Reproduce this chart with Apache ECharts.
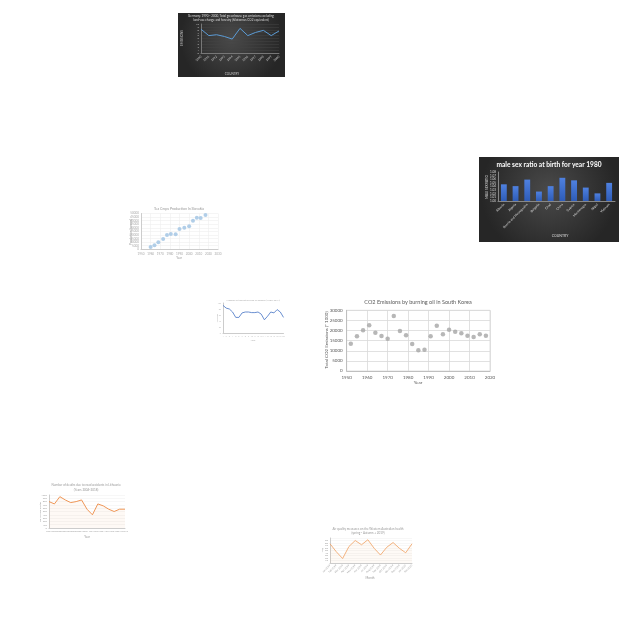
<!DOCTYPE html>
<html><head><meta charset="utf-8">
<script src="https://cdn.jsdelivr.net/npm/echarts@6/dist/echarts.min.js"></script>
<style>html,body{margin:0;padding:0;background:#fff}#c{width:640px;height:640px}</style>
</head><body><div id="c"></div>
<script>
// Main scatter: CO2 emissions by burning oil in South Korea
const co2Years = [1952,1955,1958,1961,1964,1967,1970,1973,1976,1979,1982,1985,1988,1991,1994,1997,2000,2003,2006,2009,2012,2015,2018];
const co2Values = [13500,17150,20100,22550,18900,17300,15950,27200,19750,17650,13350,10250,10550,17150,22400,18150,20400,19400,18650,17450,16800,18150,17450];
const co2XTicks = [1950,1960,1970,1980,1990,2000,2010,2020];
const co2YTicks = [0,5000,10000,15000,20000,25000,30000];

// Chart A (dark line)
const aCats = ['1990','1991','1992','1993','1994','1995','1996','1997','1998','1999','2000'];
const aValues = [8.2,6.0,6.3,5.7,4.8,8.5,6.0,7.1,7.8,6.0,7.6];

// Chart B (dark bars)
const bCats = ['Albania','Algeria','Bosnia and Herzegovina','Bulgaria','Chad','China','Cyprus','Montenegro','Nepal','Vietnam'];
const bValues = [1.046,1.041,1.059,1.026,1.041,1.064,1.057,1.037,1.021,1.050];

// Chart C (light scatter)
const cYears = [1960,1964,1968,1973,1977,1981,1986,1990,1995,2000,2004,2008,2012,2017];
const cValues = [3200,5600,9800,14400,20000,21400,20900,28300,30200,32100,39900,44100,43700,47900];

// Chart D (small blue line)
const dCats = ['1','2','3','4','5','6','7','8','9','10','11','12','13','14','15','16','17','18','19','20'];
const dValues = [92,83,80,70,52,52,67,70,70,68,68,70,63,44,56,70,67,78,70,52];

// Chart E (orange line)
const eCats = ['2004','2005','2006','2007','2008','2009','2010','2011','2012','2013','2014','2015','2016','2017','2018'];
const eValues = [800,730,950,850,770,800,850,570,400,730,670,570,500,570,570];

// Chart F (orange line, rotated labels)
const fCats = ['Jan 2019','Feb 2019','Mar 2019','Apr 2019','May 2019','Jun 2019','Jul 2019','Aug 2019','Sep 2019','Oct 2019','Nov 2019','Dec 2019','Jan 2020','Feb 2020'];
const fValues = [77,45,18,66,90,73,93,59,32,63,82,59,41,77];

const FF = 'Lato, "Open Sans", sans-serif';
const gray = '#595959';
const plain = v => String(v);
const chart = echarts.init(document.getElementById('c'), null, {renderer:'canvas'});

function darkBg(x,y,w,h){
  return {type:'rect', z:-10, shape:{x:x,y:y,width:w,height:h},
    style:{fill:new echarts.graphic.RadialGradient(0.5,0.4,0.8,[{offset:0,color:'#4a4a4a'},{offset:1,color:'#262626'}])}};
}
function tinyText(x,y,t,opt,rot){
  return {type:'text', x:x, y:y, rotation:rot||0,
    style:Object.assign({text:t, fontFamily:FF, fontSize:4, fill:gray, align:'center', verticalAlign:'middle'}, opt||{})};
}
const V = Math.PI/2;

const option = {
  backgroundColor:'#ffffff',
  animation:false,
  graphic:[
    darkBg(178,13,107,64),
    darkBg(479,157,140,85),
    tinyText(231,16,'Germany: 1990 - 2000, Total greenhouse gas emissions excluding',{fill:'#ddd',fontSize:3}),
    tinyText(231,20,'land-use change and forestry (kilotonnes CO2 equivalent)',{fill:'#ddd',fontSize:3}),
    tinyText(182,38,'EMISSIONS',{fill:'#ccc',fontSize:3},V),
    tinyText(232,74,'COUNTRY',{fill:'#ccc',fontSize:3}),
    tinyText(549,165,'male sex ratio at birth for year 1980',{fill:'#fff',fontSize:6.6,fontWeight:'bold'}),
    tinyText(487,187,'MALE SEX RATIO',{fill:'#ddd',fontSize:3},V),
    tinyText(560,236,'COUNTRY',{fill:'#ddd',fontSize:3.5}),
    tinyText(179,209,'Tea Crops Production In Slovakia',{fill:'#999',fontSize:3.5}),
    tinyText(131,232,'Production (tonnes)',{fill:'#999',fontSize:3},V),
    tinyText(179,258,'Year',{fill:'#999',fontSize:3}),
    tinyText(253,300,'Number of tourist arrivals in Zambia (1995-2014)',{fill:'#aaa',fontSize:2.5}),
    tinyText(217,318,'Arrivals',{fill:'#aaa',fontSize:2.5},V),
    tinyText(253,340,'Year',{fill:'#aaa',fontSize:2.5}),
    tinyText(418,302,'CO2 Emissions by burning oil in South Korea',{fontSize:5.5}),
    tinyText(327,340,'Total CO2 Emissions (* 1000)',{fontSize:4.5},V),
    tinyText(418,383,'Year',{fontSize:4.5}),
    tinyText(86,485,'Number of deaths due to road accidents in Lithuania',{fill:'#999',fontSize:3}),
    tinyText(86,490,'(Years 2004-2018)',{fill:'#999',fontSize:3}),
    tinyText(40,512,'No. of road deaths',{fill:'#999',fontSize:2.5},V),
    tinyText(87,537,'Year',{fill:'#999',fontSize:3}),
    tinyText(368,529,'Air quality measures on the Western Australian health',{fill:'#999',fontSize:3}),
    tinyText(368,533,'(spring - Autumn + 2019)',{fill:'#999',fontSize:3}),
    tinyText(322,550,'AQI',{fill:'#999',fontSize:2.5},V),
    tinyText(370,578,'Month',{fill:'#999',fontSize:3})
  ],
  grid:[
    {left:346.7, right:150, top:310.3, bottom:269, show:true, borderColor:'#d9d9d9', borderWidth:0.8},
    {left:201, right:361, top:24, bottom:587},
    {left:498, right:25, top:172, bottom:439},
    {left:141, right:422, top:213.5, bottom:390.7},
    {left:223, right:356.5, top:303, bottom:307},
    {left:49, right:515, top:495, bottom:112},
    {left:330, right:228, top:538, bottom:77}
  ],
  xAxis:[
    {gridIndex:0, type:'value', min:co2XTicks[0], max:co2XTicks[co2XTicks.length-1], interval:10,
     axisLine:{lineStyle:{color:'#bfbfbf'}}, axisTick:{show:false},
     axisLabel:{fontSize:4.5, color:gray, fontFamily:FF, margin:4, formatter:plain},
     splitLine:{show:true, lineStyle:{color:'#d9d9d9', width:0.8}}},
    {gridIndex:1, type:'category', data:aCats, boundaryGap:false,
     axisLine:{lineStyle:{color:'#777'}}, axisTick:{show:false},
     axisLabel:{fontSize:3, color:'#ccc', rotate:45, margin:3, interval:0, fontFamily:FF},
     splitLine:{show:false}},
    {gridIndex:2, type:'category', data:bCats,
     axisLine:{lineStyle:{color:'#888'}}, axisTick:{show:false},
     axisLabel:{fontSize:3.2, color:'#ddd', rotate:45, margin:3, interval:0, fontFamily:FF}},
    {gridIndex:3, type:'value', min:1950, max:2030, interval:10,
     axisLine:{lineStyle:{color:'#ccc'}}, axisTick:{show:false},
     axisLabel:{fontSize:3, color:'#aaa', margin:3, fontFamily:FF, formatter:plain},
     splitLine:{show:true, lineStyle:{color:'#eee', width:0.6}}},
    {gridIndex:4, type:'category', data:dCats, boundaryGap:false,
     axisLine:{lineStyle:{color:'#ccc'}}, axisTick:{show:false},
     axisLabel:{fontSize:2, color:'#bbb', margin:2, interval:0, fontFamily:FF}},
    {gridIndex:5, type:'category', data:eCats, boundaryGap:false,
     axisLine:{lineStyle:{color:'#ccc'}}, axisTick:{show:false},
     axisLabel:{fontSize:2.5, color:'#aaa', margin:2, interval:0, fontFamily:FF}},
    {gridIndex:6, type:'category', data:fCats, boundaryGap:false,
     axisLine:{lineStyle:{color:'#ccc'}}, axisTick:{show:false},
     axisLabel:{fontSize:2.5, color:'#999', rotate:45, margin:2, interval:0, fontFamily:FF}}
  ],
  yAxis:[
    {gridIndex:0, type:'value', min:co2YTicks[0], max:co2YTicks[co2YTicks.length-1], interval:5000,
     axisLine:{show:true, lineStyle:{color:'#bfbfbf'}}, axisTick:{show:false},
     axisLabel:{fontSize:4.5, color:gray, fontFamily:FF, margin:4, formatter:plain},
     splitLine:{show:true, lineStyle:{color:'#d9d9d9', width:0.8}}},
    {gridIndex:1, type:'value', min:0, max:10, interval:1,
     axisLine:{show:true, lineStyle:{color:'#777'}}, axisTick:{show:false},
     axisLabel:{fontSize:2.5, color:'#ccc', margin:2, fontFamily:FF, formatter:plain},
     splitLine:{show:true, lineStyle:{color:'#444', width:0.5}}},
    {gridIndex:2, type:'value', min:1.00, max:1.08, interval:0.01,
     axisLine:{show:true, lineStyle:{color:'#888'}}, axisTick:{show:false},
     axisLabel:{fontSize:3, color:'#ddd', margin:2, fontFamily:FF, formatter:v=>v.toFixed(2)},
     splitLine:{show:false}},
    {gridIndex:3, type:'value', min:0, max:50000, interval:5000,
     axisLine:{show:true, lineStyle:{color:'#ccc'}}, axisTick:{show:false},
     axisLabel:{fontSize:3, color:'#aaa', margin:2, fontFamily:FF, formatter:plain},
     splitLine:{show:true, lineStyle:{color:'#eee', width:0.6}}},
    {gridIndex:4, type:'value', min:0, max:100, interval:20,
     axisLine:{show:true, lineStyle:{color:'#ccc'}}, axisTick:{show:false},
     axisLabel:{fontSize:2, color:'#bbb', margin:2, fontFamily:FF, formatter:plain},
     splitLine:{show:false}},
    {gridIndex:5, type:'value', min:0, max:1000, interval:100,
     axisLine:{show:true, lineStyle:{color:'#ccc'}}, axisTick:{show:false},
     axisLabel:{fontSize:2.5, color:'#aaa', margin:2, fontFamily:FF, formatter:plain},
     splitLine:{show:true, lineStyle:{color:'#eee', width:0.5}}},
    {gridIndex:6, type:'value', min:0, max:100, interval:10,
     axisLine:{show:true, lineStyle:{color:'#ccc'}}, axisTick:{show:false},
     axisLabel:{fontSize:2.5, color:'#999', margin:2, fontFamily:FF, formatter:plain},
     splitLine:{show:true, lineStyle:{color:'#eee', width:0.5}}}
  ],
  series:[
    {type:'scatter', xAxisIndex:0, yAxisIndex:0, symbolSize:4.5,
     itemStyle:{color:'#a5a5a5'}, data:co2Years.map((y,i)=>[y,co2Values[i]])},
    {type:'line', xAxisIndex:1, yAxisIndex:1, symbol:'none',
     lineStyle:{color:'#5b9bd5', width:1}, data:aValues},
    {type:'bar', xAxisIndex:2, yAxisIndex:2, barWidth:'50%',
     itemStyle:{color:new echarts.graphic.LinearGradient(0,0,0,1,[{offset:0,color:'#4f81e0'},{offset:1,color:'#2e5cb8'}])},
     data:bValues},
    {type:'scatter', xAxisIndex:3, yAxisIndex:3, symbolSize:4,
     itemStyle:{color:'#a9c9e6', opacity:0.9}, data:cYears.map((y,i)=>[y,cValues[i]])},
    {type:'line', xAxisIndex:4, yAxisIndex:4, symbol:'none',
     lineStyle:{color:'#4472c4', width:0.8}, data:dValues},
    {type:'line', xAxisIndex:5, yAxisIndex:5, symbol:'none',
     lineStyle:{color:'#ed8b45', width:0.9}, areaStyle:{color:'rgba(237,139,69,0.08)'}, data:eValues},
    {type:'line', xAxisIndex:6, yAxisIndex:6, symbol:'none',
     lineStyle:{color:'#f0a060', width:0.8}, areaStyle:{color:'rgba(240,160,96,0.08)'}, data:fValues}
  ]
};
chart.setOption(option);
</script>
</body></html>
